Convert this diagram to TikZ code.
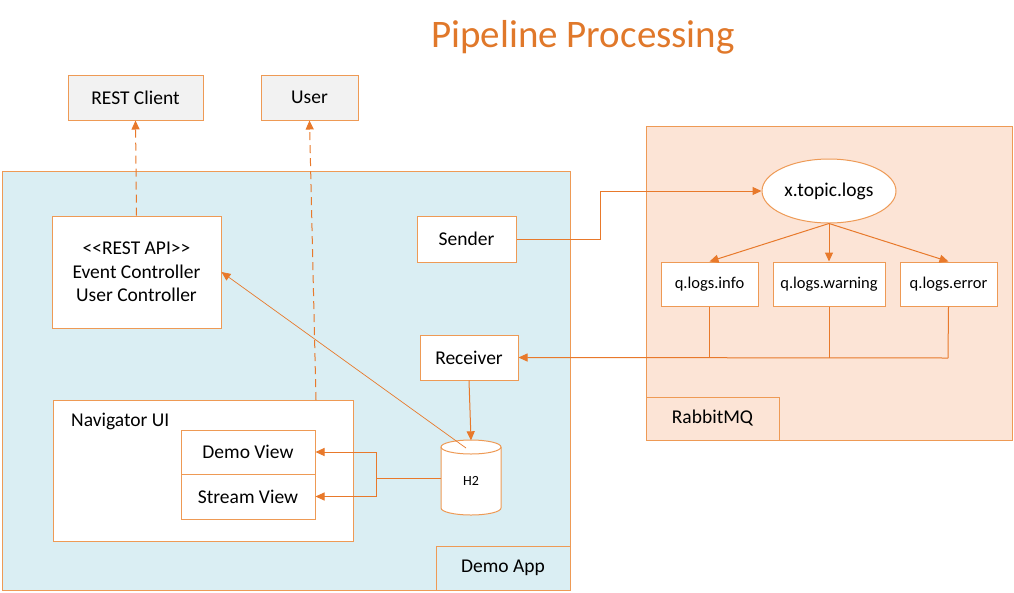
\documentclass[tikz,border=0pt]{standalone}
\usepackage{fontspec}
\setmainfont{Carlito}
\usetikzlibrary{arrows.meta,shapes.geometric}
\definecolor{bord}{HTML}{EE9A55}
\definecolor{arr}{HTML}{E8792B}
\definecolor{ttl}{HTML}{E0782A}
\definecolor{bluefill}{HTML}{DAEEF3}
\definecolor{peach}{HTML}{FCE4D6}
\definecolor{grayfill}{HTML}{F2F2F2}
\tikzset{
  box/.style={draw=bord, line width=1pt, fill=white, inner sep=0pt, align=center, font=\fontsize{19.5}{23.5}\selectfont},
  graybox/.style={box, fill=grayfill},
  container/.style={draw=bord, line width=1pt, inner sep=0pt},
  qbox/.style={box, font=\fontsize{16.5}{20}\selectfont},
  conn/.style={draw=arr, line width=1pt, -{Triangle[length=9pt,width=8pt]}},
  thinconn/.style={draw=arr, line width=0.7pt, -{Triangle[length=9pt,width=8pt]}},
  dashconn/.style={conn, dash pattern=on 8pt off 5pt},
  plainline/.style={draw=arr, line width=1pt},
}
\begin{document}
\begin{tikzpicture}[x=1pt,y=-1pt]
\useasboundingbox (0,0) rectangle (1014,592);
% title
\node[text=ttl, font=\fontsize{39}{46}\selectfont] (title) at (583,37) {Pipeline Processing};
% containers
\node[container, fill=bluefill, minimum width=568pt, minimum height=419pt] (demoapp) at (286,380.5) {};
\node[container, fill=peach, minimum width=366pt, minimum height=314pt] (rabbit) at (829,283) {};
\node[box, fill=bluefill, minimum width=134pt, minimum height=44pt] (demoapplabel) at (503,568) {Demo App};
\node[box, fill=peach, minimum width=133pt, minimum height=43pt] (rabbitlabel) at (712.5,418.5) {RabbitMQ};
% top boxes
\node[graybox, minimum width=135pt, minimum height=45pt] (restclient) at (135.5,97.5) {REST Client};
\node[graybox, minimum width=97pt, minimum height=45pt] (user) at (309.5,97.5) {User};
% demo app internals
\node[box, minimum width=169pt, minimum height=112pt] (restapi) at (136.5,272) {{<}{<}REST API{>}{>}\\Event Controller\\User Controller};
\node[box, minimum width=99pt, minimum height=46pt] (sender) at (466.5,239) {Sender};
\node[box, minimum width=98pt, minimum height=45pt] (receiver) at (469,357.5) {Receiver};
\node[box, minimum width=300pt, minimum height=141pt] (navigator) at (203,470.5) {};
\node[anchor=west, font=\fontsize{19.5}{23.5}\selectfont, inner sep=0pt] (navlabel) at (71,421) {Navigator UI};
\node[box, minimum width=134pt, minimum height=44pt] (demoview) at (248,452) {Demo View};
\node[box, minimum width=134pt, minimum height=45pt] (streamview) at (248,496.5) {Stream View};
% H2 cylinder
\fill[white] (441,447) -- (441,508) arc[start angle=180, end angle=360, x radius=30pt, y radius=7pt] -- (501,447) -- cycle;
\fill[white] (471,447) ellipse [x radius=30pt, y radius=7pt];
\draw[bord, line width=1pt] (441,447) -- (441,508) arc[start angle=180, end angle=360, x radius=30pt, y radius=7pt] -- (501,447);
\draw[bord, line width=1pt] (471,447) ellipse [x radius=30pt, y radius=7pt];
\node[inner sep=0pt, minimum width=60pt, minimum height=75pt] (h2) at (471,478) {};
\node[inner sep=0pt, font=\fontsize{14}{17}\selectfont] (h2label) at (471,481) {H2};
% rabbit internals
\node[ellipse, draw=bord, line width=1pt, fill=white, inner sep=0pt, minimum width=134pt, minimum height=64pt, font=\fontsize{19.5}{23.5}\selectfont] (xtopic) at (829,191) {x.topic.logs};
\node[qbox, minimum width=97pt, minimum height=44pt] (qinfo) at (709.5,284) {q.logs.info};
\node[qbox, minimum width=112pt, minimum height=44pt] (qwarn) at (829,284) {q.logs.warning};
\node[qbox, minimum width=97pt, minimum height=44pt] (qerr) at (948.5,284) {q.logs.error};
% connectors
\coordinate (navtop) at (316,400);
\coordinate (h2top) at (466,448);
\coordinate (h2left) at (441,478);
\coordinate (split) at (376,478);
\coordinate (qjoin) at (948,358);
\coordinate (senderbend) at (600,239);
\draw[dashconn] (restapi.north) -- (restclient.south);
\draw[dashconn] (navtop) -- (user.south);
\draw[thinconn] (h2top) -- (restapi.east);
\draw[conn] (sender.east) -- (senderbend) |- (xtopic.west);
\draw[conn] (xtopic.south) -- (qinfo.north);
\draw[conn] (xtopic.south) -- (qwarn.north);
\draw[conn] (xtopic.south) -- (qerr.north);
\draw[plainline] (qinfo.south) -- (qinfo.south |- qjoin);
\draw[plainline] (qwarn.south) -- (qwarn.south |- qjoin);
\draw[plainline] (qerr.south) -- (qjoin);
\draw[conn] (qjoin) -- (receiver.east);
\draw[conn] (receiver.south) -- (h2.north);
\draw[plainline] (h2left) -- (split);
\draw[conn] (split) |- (demoview.east);
\draw[conn] (split) |- (streamview.east);
\end{tikzpicture}
\end{document}
